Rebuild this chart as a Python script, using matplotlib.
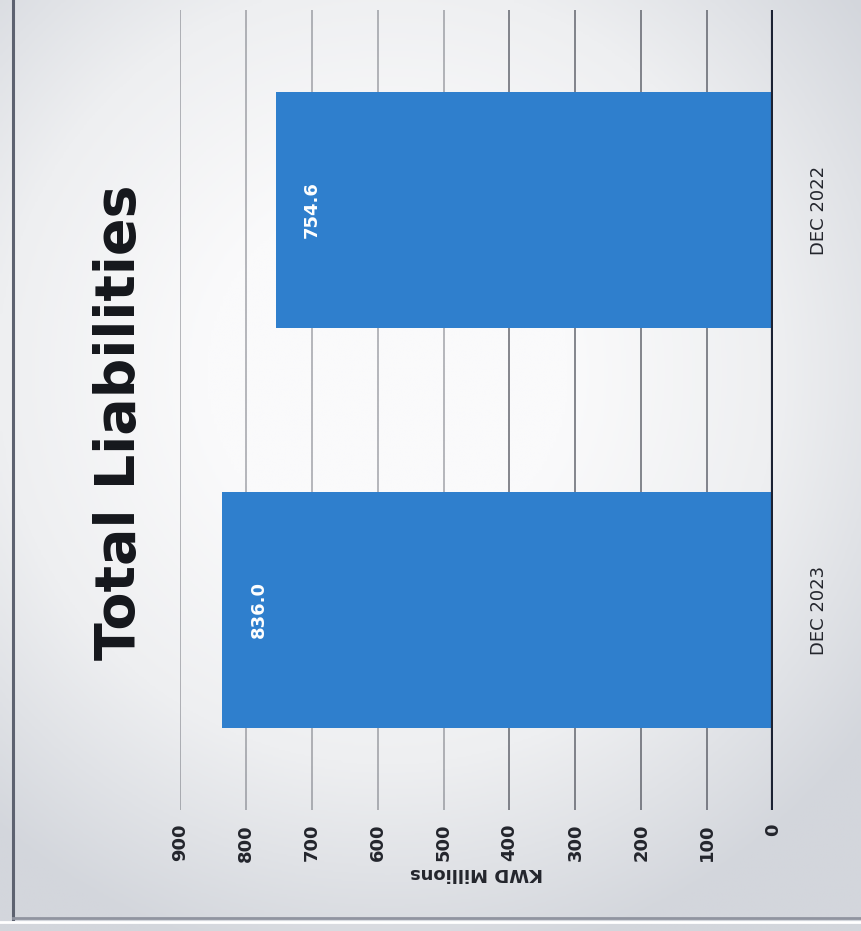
"""Total Liabilities, KWD millions. Drawn turned on its side like the scanned page."""

import numpy as np
import matplotlib.pyplot as plt
from matplotlib.colors import LinearSegmentedColormap

CATEGORIES = ["DEC 2023", "DEC 2022"]
VALUES = [836.0, 754.6]
TICKS = [0, 100, 200, 300, 400, 500, 600, 700, 800, 900]

BAR_COLOR = "#2f7fcd"
TEXT = "#23252c"

fig = plt.figure(figsize=(8.62, 9.31), dpi=100)
W, H = 862.0, 931.0

# grey page with a lighter middle
bg = fig.add_axes([0, 0, 1, 1], zorder=-5)
yy, xx = np.mgrid[1:0:300j, 0:1:300j]
d = np.sqrt(((xx - 0.45) / 0.7) ** 2 + ((yy - 0.6) / 0.65) ** 2)
page = LinearSegmentedColormap.from_list("page", ["#fafafb", "#eeeff1", "#d3d6dc"])
bg.imshow(np.clip(d, 0, 1), cmap=page, vmin=0.3, vmax=1.0,
          extent=[0, 1, 0, 1], aspect="auto")
bg.set_xlim(0, 1)
bg.set_ylim(0, 1)
bg.set_axis_off()
bg.plot([13 / W, 13 / W], [1, 12 / H], color="#5d6270", linewidth=2.2)
bg.plot([13 / W, 1], [13 / H, 13 / H], color="#9094a0", linewidth=2.0)
bg.plot([0, 1], [9 / H, 9 / H], color="white", linewidth=2.0)

ax = fig.add_axes([180 / W, 121 / H, 593 / W, 800 / H])
ax.set_facecolor("none")
ypos = [0, 1]
ax.barh(ypos, VALUES, height=0.59, color=BAR_COLOR, zorder=2)
ax.set_xlim(900, 0)
ax.set_ylim(-0.5, 1.5)

for t in TICKS[1:]:
    ax.axvline(t, color="#4a4d57", linewidth=1.1,
               alpha=0.85 if t <= 400 else 0.5, zorder=1)
ax.axvline(0, color="#1c2233", linewidth=3.0, zorder=3)

for y, v in zip(ypos, VALUES):
    ax.text(v - 55, y, f"{v:.1f}", rotation=90, ha="center", va="center",
            color="white", fontsize=13, fontweight="bold")

for s in ax.spines.values():
    s.set_visible(False)
ax.set_yticks([])
ax.set_xticks(TICKS)
ax.set_xticklabels([str(t) for t in TICKS], rotation=90, fontsize=13,
                   fontweight="bold", color=TEXT)
ax.tick_params(axis="x", length=0, pad=10)

for y, c in zip(ypos, CATEGORIES):
    ax.text(-70, y, c, rotation=90, ha="center", va="center",
            fontsize=13, color=TEXT)

ax.set_xlabel("KWD Millions", rotation=180, fontsize=13, fontweight="bold",
              color=TEXT, labelpad=2)

fig.text(120 / W, 1 - 422 / H, "Total Liabilities", rotation=90,
         ha="center", va="center", fontsize=40, fontweight="bold",
         color="#15171c")

fig.savefig("out.png", dpi=100)
